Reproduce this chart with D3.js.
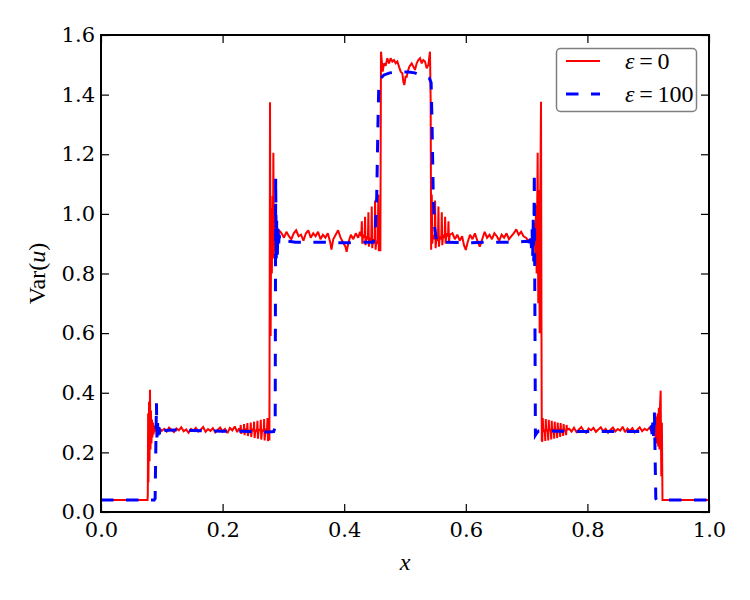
<!DOCTYPE html>
<html>
<head>
<meta charset="utf-8">
<script src="https://cdnjs.cloudflare.com/ajax/libs/d3/7.8.5/d3.min.js"></script>
<style>
  body { margin: 0; background: #fff; }
  text { font-family: "DejaVu Serif", serif; }
</style>
</head>
<body>
<script>
// tick values
var xTicks = [0, 0.2, 0.4, 0.6, 0.8, 1.0];
var yTicks = [0, 0.2, 0.4, 0.6, 0.8, 1.0, 1.2, 1.4, 1.6];

// legend labels
var seriesNames = ["0", "100"];

// eps = 0 (solid red) as [x, Var(u)]
var redLeft = [
  [0, 0.04], [0.0765, 0.04], [0.0770, 0.06], [0.0775, 0.33], [0.0780, 0.10], [0.0790, 0.37],
  [0.0798, 0.17], [0.0806, 0.41], [0.0814, 0.21], [0.0822, 0.34], [0.0830, 0.23], [0.0838, 0.31],
  [0.0846, 0.25], [0.0855, 0.30], [0.0865, 0.26], [0.0875, 0.29], [0.0885, 0.27], [0.0895, 0.285],
  [0.092, 0.276], [0.096, 0.281], [0.100, 0.272], [0.104, 0.279], [0.108, 0.270], [0.112, 0.283],
  [0.116, 0.275], [0.120, 0.268], [0.124, 0.280], [0.128, 0.274], [0.132, 0.284], [0.136, 0.271],
  [0.140, 0.277], [0.144, 0.266], [0.148, 0.279], [0.152, 0.273], [0.156, 0.282], [0.160, 0.270],
  [0.164, 0.276], [0.168, 0.285], [0.172, 0.269], [0.176, 0.278], [0.180, 0.272], [0.184, 0.281],
  [0.188, 0.267], [0.192, 0.276], [0.196, 0.283], [0.200, 0.270], [0.204, 0.279], [0.208, 0.265],
  [0.212, 0.282], [0.216, 0.274], [0.220, 0.287], [0.224, 0.268], [0.227, 0.280],
  [0.2290, 0.272], [0.2298, 0.292], [0.2306, 0.262], [0.2320, 0.276],
  [0.2345, 0.270], [0.2353, 0.295], [0.2361, 0.258], [0.2375, 0.278],
  [0.2400, 0.274], [0.2408, 0.298], [0.2416, 0.255], [0.2430, 0.272],
  [0.2455, 0.268], [0.2463, 0.300], [0.2471, 0.252], [0.2485, 0.279],
  [0.2510, 0.272], [0.2518, 0.303], [0.2526, 0.248], [0.2540, 0.275],
  [0.2565, 0.270], [0.2573, 0.306], [0.2581, 0.246], [0.2595, 0.278],
  [0.2620, 0.273], [0.2628, 0.309], [0.2636, 0.243], [0.2650, 0.276],
  [0.2675, 0.271], [0.2683, 0.312], [0.2691, 0.240], [0.2705, 0.277],
  [0.2730, 0.274], [0.2738, 0.315], [0.2746, 0.238], [0.2760, 0.270], [0.2770, 0.240],
  [0.2780, 1.374], [0.2790, 0.59], [0.2800, 1.02], [0.2810, 0.80],
  [0.2822, 1.06], [0.2828, 0.85], [0.2835, 1.205], [0.2843, 0.86], [0.2852, 1.03], [0.2862, 0.88],
  [0.2872, 0.99], [0.2882, 0.90], [0.2895, 0.96], [0.2910, 0.92], [0.2930, 0.945]
];

var redMiddle = [
  [0.297, 0.935], [0.301, 0.920], [0.305, 0.940], [0.309, 0.925], [0.313, 0.915], [0.317, 0.935],
  [0.321, 0.945], [0.325, 0.925], [0.329, 0.930], [0.333, 0.910], [0.337, 0.935], [0.341, 0.945],
  [0.345, 0.920], [0.349, 0.935], [0.353, 0.925], [0.357, 0.940], [0.361, 0.915], [0.365, 0.930],
  [0.369, 0.920], [0.373, 0.935], [0.377, 0.905], [0.379, 0.880], [0.382, 0.915], [0.386, 0.930],
  [0.390, 0.945], [0.394, 0.920], [0.398, 0.905], [0.402, 0.890], [0.404, 0.873], [0.407, 0.905],
  [0.411, 0.930], [0.415, 0.915], [0.419, 0.935], [0.423, 0.920], [0.426, 0.940],
  [0.4280, 0.925], [0.4290, 0.975], [0.4298, 0.900], [0.4310, 0.930],
  [0.4335, 0.920], [0.4343, 0.990], [0.4351, 0.895], [0.4365, 0.925],
  [0.4390, 0.915], [0.4398, 1.005], [0.4406, 0.890], [0.4420, 0.920],
  [0.4445, 0.910], [0.4453, 1.025], [0.4461, 0.885], [0.4475, 0.915],
  [0.4500, 0.905], [0.4508, 1.045], [0.4516, 0.880], [0.4530, 0.910],
  [0.4553, 0.900], [0.4561, 1.065], [0.4569, 0.875], [0.4580, 0.900], [0.4595, 0.875],
  [0.4605, 1.544], [0.4633, 1.477], [0.4655, 1.505], [0.4682, 1.497], [0.4709, 1.522], [0.4737, 1.505],
  [0.4764, 1.522], [0.4792, 1.511], [0.4819, 1.516], [0.4847, 1.505], [0.4874, 1.511], [0.4901, 1.494],
  [0.4929, 1.477], [0.4956, 1.472], [0.4973, 1.443], [0.4989, 1.432], [0.5011, 1.463], [0.5027, 1.457],
  [0.5044, 1.477], [0.5071, 1.494], [0.5092, 1.500], [0.5110, 1.505], [0.5137, 1.494], [0.5164, 1.483],
  [0.5192, 1.505], [0.5219, 1.516], [0.5247, 1.522], [0.5274, 1.505], [0.5301, 1.516], [0.5329, 1.511],
  [0.5356, 1.488], [0.5384, 1.500], [0.5411, 1.544], [0.5422, 1.380], [0.5430, 0.880],
  [0.5440, 1.065], [0.5448, 0.900], [0.5462, 0.930],
  [0.5487, 0.915], [0.5495, 1.045], [0.5503, 0.885], [0.5517, 0.920],
  [0.5542, 0.910], [0.5550, 1.025], [0.5558, 0.890], [0.5572, 0.925],
  [0.5597, 0.915], [0.5605, 1.005], [0.5613, 0.895], [0.5627, 0.930],
  [0.5652, 0.920], [0.5660, 0.990], [0.5668, 0.900], [0.5682, 0.935],
  [0.5707, 0.925], [0.5715, 0.975], [0.5723, 0.905], [0.5737, 0.930],
  [0.578, 0.935], [0.582, 0.915], [0.586, 0.930], [0.590, 0.910], [0.594, 0.925],
  [0.597, 0.895], [0.600, 0.879], [0.603, 0.905], [0.607, 0.930], [0.611, 0.915], [0.615, 0.935],
  [0.619, 0.910], [0.623, 0.890], [0.627, 0.915], [0.631, 0.940], [0.635, 0.920], [0.639, 0.930],
  [0.643, 0.915], [0.647, 0.935], [0.651, 0.925], [0.655, 0.910], [0.659, 0.930], [0.663, 0.920],
  [0.667, 0.935], [0.671, 0.915], [0.675, 0.925], [0.679, 0.935], [0.683, 0.948], [0.687, 0.930],
  [0.691, 0.940], [0.695, 0.925], [0.699, 0.920], [0.703, 0.910], [0.707, 0.915]
];

var redRight = [
  [0.7110, 0.900], [0.7135, 0.970], [0.7145, 0.850], [0.7155, 1.030], [0.7165, 0.800], [0.7182, 1.205],
  [0.7192, 0.700], [0.7205, 1.080], [0.7215, 0.600], [0.7225, 1.050], [0.7237, 1.376], [0.7245, 0.590],
  [0.7250, 0.240], [0.7258, 0.236], [0.7266, 0.315], [0.7274, 0.270],
  [0.7299, 0.276], [0.7307, 0.238], [0.7315, 0.312], [0.7323, 0.271],
  [0.7348, 0.277], [0.7356, 0.240], [0.7364, 0.309], [0.7372, 0.273],
  [0.7397, 0.276], [0.7405, 0.243], [0.7413, 0.306], [0.7421, 0.270],
  [0.7446, 0.278], [0.7454, 0.246], [0.7462, 0.303], [0.7470, 0.272],
  [0.7495, 0.275], [0.7503, 0.248], [0.7511, 0.300], [0.7519, 0.272],
  [0.7544, 0.279], [0.7552, 0.252], [0.7560, 0.298], [0.7568, 0.268],
  [0.7593, 0.278], [0.7601, 0.255], [0.7609, 0.295], [0.7617, 0.274],
  [0.7642, 0.272], [0.7650, 0.258], [0.7658, 0.292], [0.7666, 0.276],
  [0.770, 0.279], [0.774, 0.270], [0.778, 0.283], [0.782, 0.268], [0.786, 0.277], [0.790, 0.285],
  [0.794, 0.272], [0.798, 0.266], [0.802, 0.280], [0.806, 0.274], [0.810, 0.282], [0.814, 0.269],
  [0.818, 0.277], [0.822, 0.284], [0.826, 0.271], [0.830, 0.279], [0.834, 0.266], [0.838, 0.276],
  [0.842, 0.283], [0.846, 0.270], [0.850, 0.278], [0.854, 0.273], [0.858, 0.286], [0.862, 0.268],
  [0.866, 0.280], [0.870, 0.272], [0.874, 0.281], [0.878, 0.267], [0.882, 0.276], [0.886, 0.284],
  [0.890, 0.271], [0.894, 0.279], [0.898, 0.274], [0.902, 0.283], [0.906, 0.270],
  [0.9090, 0.290], [0.9105, 0.260], [0.9115, 0.310], [0.9125, 0.240], [0.9135, 0.320], [0.9145, 0.230],
  [0.9155, 0.330], [0.9165, 0.220], [0.9175, 0.350], [0.9185, 0.210], [0.9195, 0.360], [0.9205, 0.407],
  [0.9215, 0.120], [0.9225, 0.300], [0.9235, 0.040], [1.0, 0.04]
];

// eps = 100 (dashed blue)
var blueLeft = [
  [0, 0.04], [0.0875, 0.04], [0.0890, 0.045], [0.0912, 0.365], [0.0920, 0.250], [0.0930, 0.300],
  [0.0940, 0.255], [0.0950, 0.290], [0.0960, 0.260], [0.0970, 0.283], [0.0985, 0.268], [0.1000, 0.278],
  [0.103, 0.273], [0.120, 0.275], [0.150, 0.273], [0.200, 0.271], [0.250, 0.270], [0.275, 0.268],
  [0.2840, 0.270], [0.2865, 0.285], [0.2873, 1.120], [0.2882, 0.840], [0.2890, 0.980], [0.2900, 0.860],
  [0.2910, 0.950], [0.2920, 0.885], [0.2930, 0.930], [0.2945, 0.905]
];

var blueMiddle = [
  [0.300, 0.910], [0.320, 0.905], [0.360, 0.905], [0.400, 0.903], [0.440, 0.905], [0.448, 0.905],
  [0.4515, 0.960], [0.4535, 1.058], [0.4555, 1.300], [0.4570, 1.440], [0.4600, 1.455], [0.4655, 1.466],
  [0.4750, 1.473], [0.4840, 1.475], [0.5000, 1.476], [0.5055, 1.476], [0.5160, 1.473], [0.5247, 1.466],
  [0.5400, 1.455], [0.5430, 1.440], [0.5445, 1.300], [0.5465, 1.058], [0.5485, 0.960], [0.5520, 0.905],
  [0.560, 0.905], [0.600, 0.903], [0.640, 0.905], [0.680, 0.905], [0.7000, 0.908]
];

var blueRight = [
  [0.7055, 0.905], [0.7070, 0.930], [0.7080, 0.885], [0.7090, 0.950], [0.7100, 0.860], [0.7110, 0.980],
  [0.7118, 0.840], [0.7127, 1.141], [0.7145, 0.258], [0.7170, 0.266], [0.7200, 0.272], [0.750, 0.271],
  [0.800, 0.270], [0.850, 0.270], [0.900, 0.270], [0.9040, 0.275], [0.9055, 0.290], [0.9065, 0.250],
  [0.9075, 0.300], [0.9085, 0.245], [0.9095, 0.290], [0.9102, 0.336], [0.9125, 0.045], [0.9140, 0.040],
  [1.0, 0.04]
];

var redData = redLeft.concat(redMiddle, redRight);
var blueData = blueLeft.concat(blueMiddle, blueRight);

var width = 750, height = 600;
var plotLeft = 101, plotRight = 709, plotTop = 35, plotBottom = 512;

var svg = d3.select("body")
  .append("svg")
  .attr("width", width)
  .attr("height", height)
;
svg.append("rect").attr("width", width).attr("height", height).attr("fill", "#fff");

var x = d3.scaleLinear().domain([0, 1]).range([plotLeft, plotRight]);
var y = d3.scaleLinear().domain([0, 1.6]).range([plotBottom, plotTop]);

svg.append("clipPath").attr("id", "plotclip")
  .append("rect")
  .attr("x", plotLeft).attr("y", plotTop)
  .attr("width", plotRight - plotLeft).attr("height", plotBottom - plotTop);

var line = d3.line()
  .x(function(d){ return x(d[0]); })
  .y(function(d){ return y(d[1]); });

var plot = svg.append("g").attr("clip-path", "url(#plotclip)");

plot.append("path")
  .datum(redData)
  .attr("d", line)
  .attr("fill", "none")
  .attr("stroke", "#ff0000")
  .attr("stroke-width", 2)
  .attr("stroke-linejoin", "miter")
  .attr("stroke-miterlimit", 2);

plot.append("path")
  .datum(blueData)
  .attr("d", line)
  .attr("fill", "none")
  .attr("stroke", "#0000ff")
  .attr("stroke-width", 3)
  .attr("stroke-dasharray", "12.5,12.5");

// axes, ticks inward on all four sides (classic style)
var tickLen = 8;
var axBottom = d3.axisBottom(x).tickValues(xTicks).tickSizeInner(-tickLen).tickSizeOuter(0).tickPadding(10).tickFormat(d3.format(".1f"));
var axTop = d3.axisTop(x).tickValues(xTicks).tickSizeInner(-tickLen).tickSizeOuter(0).tickFormat("");
var axLeft = d3.axisLeft(y).tickValues(yTicks).tickSizeInner(-tickLen).tickSizeOuter(0).tickPadding(6).tickFormat(d3.format(".1f"));
var axRight = d3.axisRight(y).tickValues(yTicks).tickSizeInner(-tickLen).tickSizeOuter(0).tickFormat("");

function styleAxis(g) {
  g.select(".domain").remove();
  g.selectAll(".tick line").attr("stroke", "#000").attr("stroke-width", 1.2);
  g.selectAll(".tick text")
    .attr("fill", "#000")
    .style("font-family", "'DejaVu Serif', serif")
    .style("font-size", "21px");
}

svg.append("g").attr("transform", "translate(0," + plotBottom + ")").call(axBottom).call(styleAxis);
svg.append("g").attr("transform", "translate(0," + plotTop + ")").call(axTop).call(styleAxis);
svg.append("g").attr("transform", "translate(" + plotLeft + ",0)").call(axLeft).call(styleAxis);
svg.append("g").attr("transform", "translate(" + plotRight + ",0)").call(axRight).call(styleAxis);

// frame
svg.append("rect")
  .attr("x", plotLeft).attr("y", plotTop)
  .attr("width", plotRight - plotLeft).attr("height", plotBottom - plotTop)
  .attr("fill", "none")
  .attr("stroke", "#000")
  .attr("stroke-width", 2);

// axis labels
svg.append("text")
  .attr("x", (plotLeft + plotRight) / 2)
  .attr("y", 570)
  .attr("text-anchor", "middle")
  .style("font-family", "'Liberation Serif', serif")
  .style("font-style", "italic")
  .style("font-size", "24px")
  .text("x");

var yl = svg.append("text")
  .attr("transform", "translate(45," + ((plotTop + plotBottom) / 2) + ") rotate(-90)")
  .attr("text-anchor", "middle")
  .style("font-family", "'Liberation Serif', serif")
  .style("font-size", "24px");
yl.append("tspan").text("Var(");
yl.append("tspan").style("font-style", "italic").text("u");
yl.append("tspan").text(")");

// legend
var legend = svg.append("g");
legend.append("rect")
  .attr("x", 556.5).attr("y", 48.5)
  .attr("width", 140).attr("height", 63)
  .attr("rx", 4).attr("ry", 4)
  .attr("fill", "#fff")
  .attr("stroke", "#7f7f7f")
  .attr("stroke-width", 1.5);

var legendRows = [
  {name: seriesNames[0], color: "#ff0000", width: 2, dash: null, yy: 61},
  {name: seriesNames[1], color: "#0000ff", width: 3, dash: "12.5,12.5", yy: 94}
];
legendRows.forEach(function(r){
  legend.append("line")
    .attr("x1", 566).attr("x2", 600)
    .attr("y1", r.yy).attr("y2", r.yy)
    .attr("stroke", r.color)
    .attr("stroke-width", r.width)
    .attr("stroke-dasharray", r.dash);
  var t = legend.append("text")
    .attr("x", 625).attr("y", r.yy + 8)
    .style("font-family", "'Liberation Serif', serif")
    .style("font-size", "24px");
  t.append("tspan").style("font-style", "italic").text("\u03b5");
  t.append("tspan").text("\u2009=\u2009" + r.name);
});
</script>
</body>
</html>
